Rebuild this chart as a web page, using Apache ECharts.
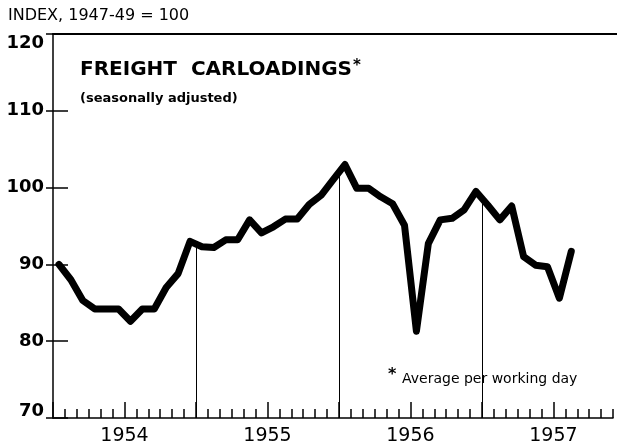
<!DOCTYPE html>
<html>
<head>
<meta charset="utf-8">
<script src="https://cdn.jsdelivr.net/npm/echarts@6/dist/echarts.min.js"></script>
<style>
    html, body { margin: 0; padding: 0; background: #fff; }
    #chart { width: 617px; height: 445px; }
</style>
</head>
<body>
<div id="chart"></div>
<script>
    "use strict";

    // ------------------------------
    // Data: freight carloadings index, monthly (1947-49 = 100)
    // ------------------------------
    var years = ['1954', '1955', '1956', '1957'];
    var loads1954 = [90, 88, 85.3, 84.2, 84.2, 84.2, 82.6, 84.2, 84.2, 87, 88.8, 93];
    var loads1955 = [92.3, 92.2, 93.2, 93.2, 95.8, 94.1, 94.9, 95.9, 95.9, 97.8, 99, 101];
    var loads1956 = [103, 99.9, 99.9, 98.8, 97.9, 95.1, 81.3, 92.7, 95.8, 96, 97.1, 99.5];
    var loads1957 = [97.7, 95.8, 97.6, 91, 89.9, 89.7, 85.6, 91.7];
    var yTicks = { min: 70, max: 120, step: 10 };

    var allLoads = loads1954.concat(loads1955, loads1956, loads1957);
    // month i plotted at the middle of its slot
    var seriesData = allLoads.map(function (v, i) { return [i + 0.5, v]; });

    // year boundary lines run up from the axis to the curve
    var boundaryLines = [12, 24, 36].map(function (m) {
        var v = (allLoads[m - 1] + allLoads[m]) / 2;
        return [{ coord: [m, yTicks.min] }, { coord: [m, v] }];
    });

    var ink = '#000';
    var font = 'DejaVu Sans';
    var plotW = 560;                 // 47 months
    var wideW = plotW * 48 / 47;     // 48 months, runs off the right edge
    var yLabelFont = { fontSize: 18, fontWeight: 'bold', fontFamily: font, color: ink };

    var chart = echarts.init(document.getElementById('chart'));
    var option = {
        backgroundColor: '#fff',
        animation: false,
        grid: [
            { left: 53, width: plotW, top: 34, bottom: 27, outerBoundsMode: 'none' },
            // wider twin grid: year ticks/labels and the top rule
            { left: 53, width: wideW, top: 34, bottom: 27, outerBoundsMode: 'none' }
        ],
        xAxis: [{
            gridIndex: 0,
            type: 'value',
            min: 0,
            max: 47,
            interval: 1,
            axisLine: { show: true, onZero: false, lineStyle: { color: ink, width: 1.5 } },
            axisTick: { show: true, inside: true, length: 9, lineStyle: { color: ink, width: 1.5 } },
            axisLabel: { show: false },
            splitLine: { show: false }
        }, {
            gridIndex: 1,
            type: 'value',
            min: 0,
            max: 48,
            interval: 6,
            axisLine: { show: false },
            axisTick: { show: true, inside: true, length: 16, lineStyle: { color: ink, width: 1.5 } },
            axisLabel: {
                margin: 9,
                fontSize: 19,
                fontFamily: font,
                color: ink,
                formatter: function (v) {
                    return v % 12 === 6 ? years[(v - 6) / 12] : '';
                }
            },
            splitLine: { show: false }
        }, {
            gridIndex: 1,
            type: 'value',
            position: 'top',
            min: 0,
            max: 48,
            axisLine: { show: true, onZero: false, lineStyle: { color: ink, width: 2 } },
            axisTick: { show: false },
            axisLabel: { show: false },
            splitLine: { show: false }
        }],
        yAxis: [{
            gridIndex: 0,
            type: 'value',
            min: yTicks.min,
            max: yTicks.max,
            interval: yTicks.step,
            axisLine: { show: true, onZero: false, lineStyle: { color: ink, width: 1.5 } },
            axisTick: { show: true, inside: true, length: 15, lineStyle: { color: ink, width: 1.5 } },
            axisLabel: {
                margin: 9,
                fontSize: 18, fontWeight: 'bold', fontFamily: font, color: ink,
                // end labels sit inside the frame, as in the print
                formatter: function (v) {
                    if (v === yTicks.max) return '{hi|' + v + '}';
                    if (v === yTicks.min) return '{lo|' + v + '}';
                    return '' + v;
                },
                rich: {
                    hi: Object.assign({ padding: [18, 0, 0, 0] }, yLabelFont),
                    lo: Object.assign({ padding: [0, 0, 13, 0] }, yLabelFont)
                }
            },
            splitLine: { show: false }
        }, {
            gridIndex: 0,
            type: 'value',
            position: 'right',
            min: yTicks.min,
            max: yTicks.max,
            interval: yTicks.step,
            axisLine: { show: false },
            axisTick: { show: true, inside: true, length: 7, lineStyle: { color: ink, width: 1.5 } },
            axisLabel: { show: false },
            splitLine: { show: false }
        }, {
            gridIndex: 1,
            type: 'value',
            show: false,
            min: yTicks.min,
            max: yTicks.max
        }],
        graphic: [{
            type: 'text', left: 8, top: 8,
            style: { text: 'INDEX, 1947-49 = 100', fill: ink, font: '16px ' + font }
        }, {
            type: 'text', left: 80, top: 59,
            style: {
                text: '{t|FREIGHT  CARLOADINGS}{s|*}',
                rich: {
                    t: { fill: ink, font: 'bold 20px ' + font },
                    s: { fill: ink, font: 'bold 15px ' + font, verticalAlign: 'top', padding: [0, 0, 6, 1] }
                }
            }
        }, {
            type: 'text', left: 80, top: 92,
            style: { text: '(seasonally adjusted)', fill: ink, font: 'bold 13px ' + font }
        }, {
            type: 'text', left: 388, top: 367,
            style: { text: '*', fill: ink, font: 'bold 16px ' + font }
        }, {
            type: 'text', left: 402, top: 372,
            style: { text: 'Average per working day', fill: ink, font: '14px ' + font }
        }],
        series: [{
            name: 'Carloadings',
            type: 'line',
            xAxisIndex: 0,
            yAxisIndex: 0,
            data: seriesData,
            symbol: 'none',
            lineStyle: { color: ink, width: 7, cap: 'round', join: 'round' },
            markLine: {
                silent: true,
                symbol: 'none',
                label: { show: false },
                lineStyle: { color: ink, width: 1, type: 'solid' },
                data: boundaryLines
            }
        }]
    };

    chart.setOption(option);
</script>
</body>
</html>
